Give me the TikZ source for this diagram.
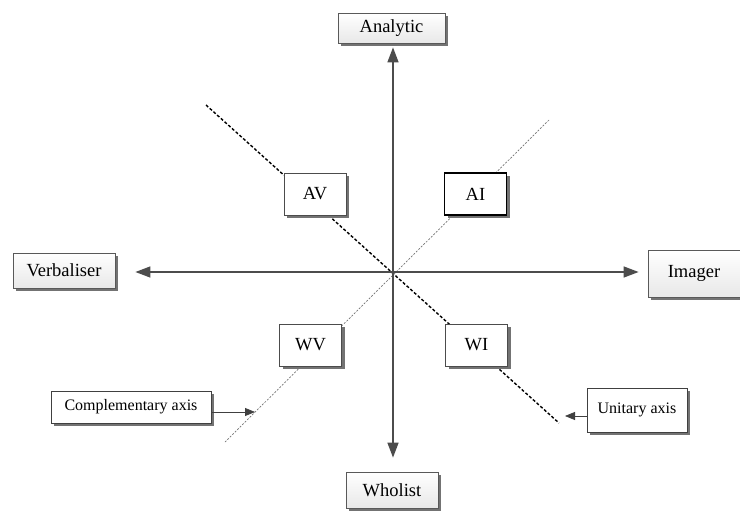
\documentclass[tikz,border=0pt]{standalone}
\usepackage{fontspec}
\setmainfont{Liberation Serif}
\usetikzlibrary{arrows.meta,shadows}

\begin{document}
\begin{tikzpicture}[
    x=1pt, y=-1pt,
    font=\fontsize{18.5}{20}\selectfont,
    axisline/.style={draw=black!70, line width=1.6pt, {Triangle[length=15pt,width=11pt]}-{Triangle[length=15pt,width=11pt]}},
    polebox/.style={draw=black!65, line width=0.8pt, top color=white, bottom color=black!9, drop shadow={shadow xshift=3pt, shadow yshift=-3pt, fill=black!55, opacity=1}, inner sep=0pt},
    quadbox/.style={draw=black!70, line width=0.8pt, fill=white, drop shadow={shadow xshift=3pt, shadow yshift=-3pt, fill=black!55, opacity=1}, minimum width=62pt, minimum height=42pt, inner sep=0pt},
    notebox/.style={draw=black!75, line width=0.8pt, fill=white, drop shadow={shadow xshift=3pt, shadow yshift=-3pt, fill=black!55, opacity=1}, font=\fontsize{16}{18}\selectfont, inner sep=0pt},
    unitary/.style={black, line width=1.4pt, dash pattern=on 3pt off 2pt},
    compl/.style={black!55, line width=0.7pt, dash pattern=on 2pt off 1.5pt},
    pointer/.style={draw=black!75, line width=0.8pt, -{Triangle[length=10pt,width=8pt]}}
]
\useasboundingbox (0,0) rectangle (740,511);

\coordinate (o) at (393,272);
\coordinate (u1) at (206,105);
\coordinate (u2) at (559,423);
\coordinate (c1) at (549,120);
\coordinate (c2) at (225,442);
\draw[unitary] (u1) -- (u2);
\draw[compl] (c1) -- (c2);

\node[polebox, minimum width=107pt, minimum height=30pt] (ana) at (391.5,28) {Analytic};
\node[polebox, minimum width=92pt, minimum height=36pt] (who) at (392,490) {Wholist};
\node[polebox, minimum width=102pt, minimum height=35pt] (verb) at (64,270.5) {Verbaliser};
\node[polebox, minimum width=92pt, minimum height=47pt] (img) at (694,273.5) {Imager};

\node[quadbox] (av) at (315,194) {AV};
\node[quadbox, draw=black, line width=1.1pt] (ai) at (475.5,194) {AI};
\node[quadbox] (wv) at (310.5,345) {WV};
\node[quadbox] (wi) at (476.5,345) {WI};

\node[notebox, minimum width=160pt, minimum height=32pt] (cax) at (131,407) {Complementary axis};
\node[notebox, minimum width=100pt, minimum height=44pt] (uax) at (637,410) {Unitary axis};

\draw[axisline, shorten <=4pt, shorten >=14pt] (ana.south -| o) -- (who.north -| o);
\draw[axisline, shorten <=20pt, shorten >=9pt] (verb.east |- o) -- (img.west |- o);

\coordinate (ct) at (255,412);
\coordinate (ut) at (565,416);
\draw[pointer] (cax.east |- ct) -- (ct);
\draw[pointer] (uax.west |- ut) -- (ut);
\end{tikzpicture}
\end{document}
